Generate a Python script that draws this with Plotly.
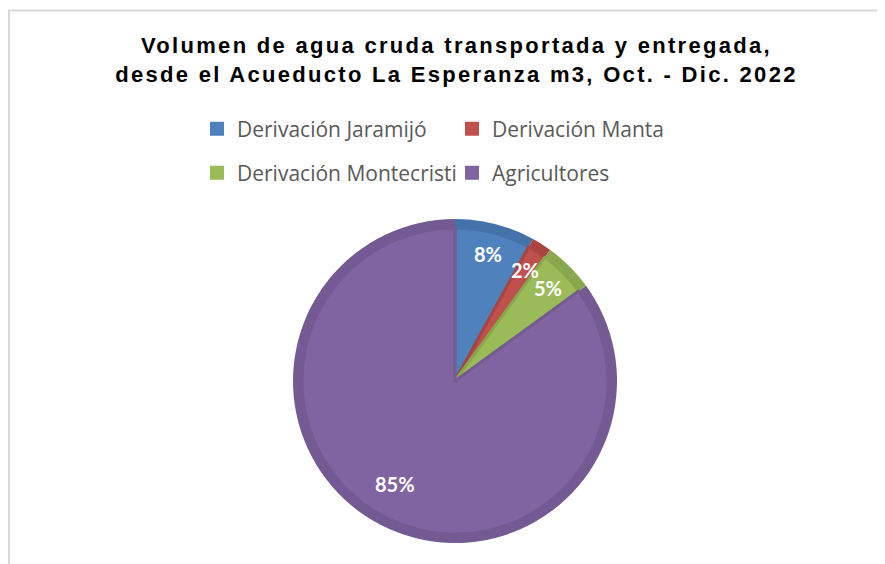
import math
import plotly.graph_objects as go

categories = ["Derivación Jaramijó", "Derivación Manta", "Derivación Montecristi", "Agricultores"]
shares = [8, 2, 5, 85]
fill_colors = ["#4f81bd", "#c0504d", "#9bbb59", "#8064a2"]
edge_colors = ["#4672aa", "#a9443f", "#89a84d", "#745a93"]

title_lines = ["Volumen de agua cruda transportada y entregada,",
               "desde el Acueducto La Esperanza m3, Oct. - Dic. 2022"]

W, H = 885, 564
cx, cy, R = 447, 373, 162
bevel = 9

def dom(r):
    return dict(x=[(cx - r) / W, (cx + r) / W], y=[1 - (cy + r) / H, 1 - (cy - r) / H])

fig = go.Figure()
fig.add_trace(go.Pie(labels=categories, values=shares, sort=False, direction="clockwise",
                     rotation=0, domain=dom(R), textinfo="none", hoverinfo="skip",
                     marker=dict(colors=edge_colors, line=dict(width=0)), showlegend=False))
fig.add_trace(go.Pie(labels=categories, values=shares, sort=False, direction="clockwise",
                     rotation=0, domain=dom(R - bevel), textinfo="none",
                     marker=dict(colors=fill_colors, line=dict(color=edge_colors, width=3)),
                     showlegend=False))

# legend entries (two rows)
for i, (lab, col) in enumerate(zip(categories, fill_colors)):
    fig.add_trace(go.Scatter(x=[None], y=[None], mode="markers", name=lab,
                             marker=dict(symbol="square", size=14, color=col),
                             legend="legend" if i < 2 else "legend2"))

# percentage labels placed from cumulative shares
total = sum(shares)
cum = 0
for v in shares:
    mid = (cum + v / 2) / total * 2 * math.pi
    cum += v
    rf = 0.81
    fig.add_annotation(x=(cx + rf * R * math.sin(mid)) / W,
                       y=1 - (cy - rf * R * math.cos(mid)) / H,
                       xref="paper", yref="paper", text=f"<b>{v}%</b>", showarrow=False,
                       font=dict(family="Lato", size=20, color="white"))

fig.add_shape(type="rect", xref="paper", yref="paper", x0=1 / W, x1=1.02, y0=-0.02,
              y1=1 - 2.5 / H, line=dict(color="#d9d9d9", width=2))

legend_common = dict(orientation="h", entrywidth=210, entrywidthmode="pixels",
                     font=dict(family="Open Sans", size=21, color="#595959"),
                     bgcolor="rgba(0,0,0,0)", itemclick=False, itemdoubleclick=False,
                     xanchor="left", yanchor="middle", tracegroupgap=0)

fig.update_layout(
    width=W, height=H, margin=dict(l=0, r=0, t=0, b=0),
    paper_bgcolor="white", plot_bgcolor="white",
    title=dict(text="<b>" + "<br>".join(title_lines) + "</b>", x=448.5 / W, xanchor="center",
               y=1 - 45 / H, yanchor="middle",
               font=dict(family="Liberation Sans", size=22, color="black")),
    xaxis=dict(visible=False), yaxis=dict(visible=False),
    legend=dict(x=189 / W, y=1 - 121 / H, **legend_common),
    legend2=dict(x=189 / W, y=1 - 165 / H, **legend_common),
)

post = ("document.querySelectorAll('.gtitle').forEach(function(e){"
        "e.style.letterSpacing='2.3px';});")
fig.write_html("out.html", post_script=post)
